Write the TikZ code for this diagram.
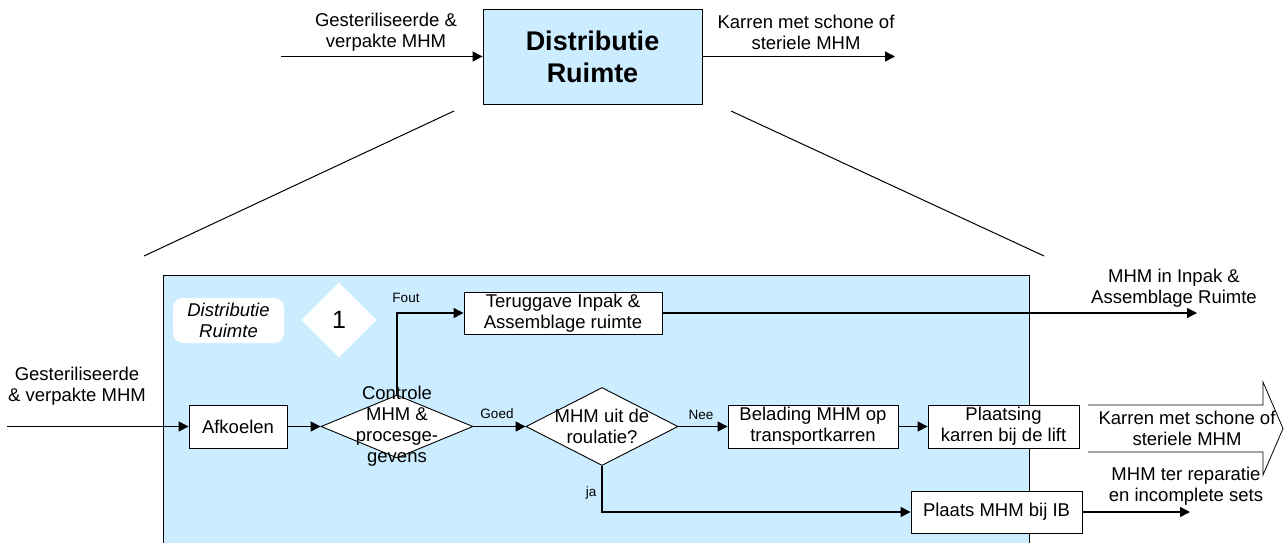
\documentclass[tikz,border=0pt]{standalone}
\usepackage{fontspec}
\setmainfont{Liberation Sans}
\usetikzlibrary{arrows.meta,shapes.geometric}
\definecolor{roomblue}{RGB}{204,236,255}
\begin{document}
\begin{tikzpicture}[x=1pt,y=1pt,
  every node/.style={font=\fontsize{18.5}{21}\selectfont, align=center},
  box/.style={draw, fill=white, line width=0.9pt, minimum height=43pt, inner sep=0pt},
  dia/.style={diamond, draw, fill=white, line width=0.9pt, inner sep=0pt},
  conn/.style={line width=1.4pt, -{Triangle[length=10pt,width=10pt]}},
  lbl/.style={font=\fontsize{13.5}{15}\selectfont},
  zoomline/.style={line width=1pt}
]
\useasboundingbox (0,0) rectangle (1284,-543);

% ---- top overview ----
\node[box, fill=roomblue, minimum width=219pt, minimum height=95pt,
      font=\bfseries\fontsize{27}{32}\selectfont] (dist) at (592.5,-56.5) {Distributie\\Ruimte};
\coordinate (inTop) at (281,-56.5);
\coordinate (outTop) at (895,-56.5);
\draw[conn] (inTop) -- (dist.west);
\draw[conn] (dist.east) -- (outTop);
\node (inTopL) at (386,-32.5) {Gesteriliseerde \&\\verpakte MHM};
\node (outTopL) at (806,-32.5) {Karren met schone of\\steriele MHM};

% zoom lines
\draw[zoomline] (454,-111) -- (144,-256);
\draw[zoomline] (731,-111) -- (1044,-256);

% ---- detail area ----
\draw[line width=0.9pt, fill=roomblue] (163,-275) rectangle (1029,-560);

\node[fill=white, rounded corners=10pt, minimum width=111pt, minimum height=45pt,
      inner sep=0pt, font=\itshape\fontsize{18.5}{21}\selectfont] (area) at (228.5,-320.5) {Distributie\\Ruimte};
\node[diamond, fill=white, minimum width=75pt, minimum height=75pt, inner sep=0pt,
      font=\fontsize{25}{28}\selectfont] (one) at (339,-320) {1};

\node[box, minimum width=98pt] (afk) at (238,-426.5) {Afkoelen};
\node[dia, minimum width=152pt, minimum height=63pt] (ctrl) at (397,-426.5) {};
\node (ctrlT) at (397,-426.5) {Controle\\MHM \&\\procesge-\\gevens};
\node[dia, minimum width=152pt, minimum height=78pt] (roul) at (602,-426.5) {};
\node (roulT) at (602,-426) {MHM uit de\\roulatie?};
\node[box, minimum width=198pt, minimum height=42pt] (terug) at (563,-313) {Teruggave Inpak \&\\Assemblage ruimte};
\node[box, minimum width=170pt] (bel) at (813,-426.5) {Belading MHM op\\transportkarren};
\node[box, minimum width=151pt] (plaats) at (1003.5,-426.5) {Plaatsing\\karren bij de lift};
\node[box, minimum width=171pt, minimum height=42pt] (ib) at (996.5,-512) {Plaats MHM bij IB};

% connectors
\coordinate (inL) at (7,-426.5);
\draw[conn] (inL) -- (afk.west);
\draw[conn] (afk.east) -- (ctrl.west);
\draw[conn] (ctrl.north) |- (terug.west);
\draw[conn] (ctrl.east) -- (roul.west);
\draw[conn] (roul.east) -- (bel.west);
\draw[conn] (bel.east) -- (plaats.west);
\draw[conn] (roul.south) |- (ib.west);
\coordinate (outInpak) at (1197,-313);
\draw[conn] (terug.east) -- (outInpak);
\coordinate (outIB) at (1190,-512);
\draw[conn] (ib.east) -- (outIB);

% connector labels
\node[lbl] (fout) at (406,-298) {Fout};
\node[lbl] (goed) at (497,-414) {Goed};
\node[lbl] (nee) at (701,-415) {Nee};
\node[lbl] (ja) at (591,-493) {ja};

% outputs
\node (inLT) at (77,-386) {Gesteriliseerde\\\& verpakte MHM};
\node (inpakT) at (1174,-288) {MHM in Inpak \&\\Assemblage Ruimte};
\node (repT) at (1186,-486) {MHM ter reparatie\\en incomplete sets};

% big output arrow
\draw[line width=0.8pt] (1088,-405) -- (1263,-405) -- (1263,-382) -- (1283,-428.5)
      -- (1263,-475) -- (1263,-452) -- (1088,-452);
\node (karrenT) at (1187,-428.5) {Karren met schone of\\steriele MHM};
\end{tikzpicture}
\end{document}
